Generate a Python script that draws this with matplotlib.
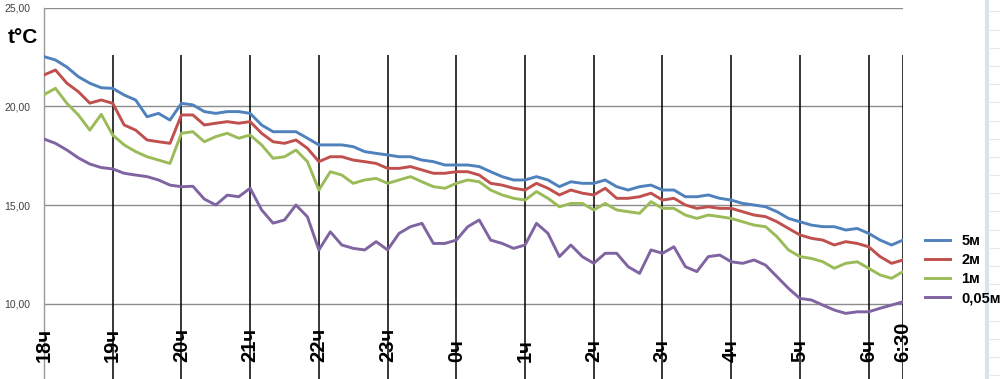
import matplotlib
matplotlib.use("Agg")
import matplotlib.pyplot as plt
import numpy as np
from matplotlib.lines import Line2D

plt.rcParams["font.family"] = ["Liberation Sans", "DejaVu Sans"]

# readings every 10 minutes from 18:00 to 6:30
minutes = np.arange(0, 751, 10)

temp_5m = [
    22.53, 22.36, 22.0, 21.51, 21.18, 20.95,
    20.92, 20.58, 20.33, 19.48, 19.65, 19.31,
    20.16, 20.08, 19.74, 19.65, 19.74, 19.74,
    19.65, 19.06, 18.72, 18.72, 18.72, 18.39,
    18.05, 18.05, 18.05, 17.96, 17.71, 17.62,
    17.54, 17.45, 17.45, 17.28, 17.2, 17.03,
    17.03, 17.03, 16.95, 16.69, 16.44, 16.27,
    16.27, 16.44, 16.27, 15.93, 16.18, 16.1,
    16.1, 16.27, 15.93, 15.76, 15.93, 16.01,
    15.76, 15.76, 15.42, 15.42, 15.51, 15.34,
    15.25, 15.08, 15.0, 14.91, 14.66, 14.32,
    14.15, 13.98, 13.9, 13.9, 13.73, 13.81,
    13.56, 13.22, 12.97, 13.22,
]
temp_2m = [
    21.6, 21.85, 21.18, 20.75, 20.17, 20.33,
    20.16, 19.06, 18.8, 18.3, 18.21, 18.13,
    19.57, 19.57, 19.06, 19.15, 19.23, 19.15,
    19.23, 18.64, 18.21, 18.13, 18.3, 17.88,
    17.2, 17.45, 17.45, 17.28, 17.2, 17.11,
    16.86, 16.86, 16.95, 16.78, 16.61, 16.61,
    16.69, 16.69, 16.52, 16.1, 16.01, 15.85,
    15.76, 16.1, 15.85, 15.51, 15.76, 15.6,
    15.51, 15.85, 15.34, 15.34, 15.42, 15.6,
    15.25, 15.34, 15.0, 14.83, 14.91, 14.83,
    14.83, 14.66, 14.49, 14.41, 14.15, 13.81,
    13.48, 13.31, 13.22, 12.97, 13.14, 13.05,
    12.88, 12.38, 12.04, 12.21,
]
temp_1m = [
    20.6, 20.92, 20.16, 19.57, 18.8, 19.6,
    18.55, 18.05, 17.71, 17.45, 17.28, 17.11,
    18.64, 18.72, 18.21, 18.47, 18.64, 18.39,
    18.55, 18.05, 17.37, 17.45, 17.79, 17.2,
    15.76, 16.69, 16.52, 16.1, 16.27, 16.35,
    16.1, 16.27, 16.44, 16.18, 15.93, 15.85,
    16.1, 16.27, 16.18, 15.76, 15.51, 15.34,
    15.25, 15.68, 15.34, 14.91, 15.08, 15.08,
    14.75, 15.08, 14.75, 14.66, 14.58, 15.17,
    14.83, 14.83, 14.49, 14.32, 14.49, 14.41,
    14.32, 14.15, 13.98, 13.9, 13.39, 12.72,
    12.38, 12.29, 12.12, 11.79, 12.04, 12.12,
    11.79, 11.45, 11.28, 11.62,
]
temp_005m = [
    18.35, 18.13, 17.79, 17.39, 17.08, 16.9,
    16.83, 16.61, 16.52, 16.44, 16.27, 16.01,
    15.93, 15.95, 15.3, 15.0, 15.5, 15.42,
    15.85, 14.75, 14.08, 14.24, 15.0, 14.4,
    12.72, 13.64, 12.97, 12.8, 12.72, 13.14,
    12.72, 13.56, 13.9, 14.07, 13.05, 13.05,
    13.22, 13.9, 14.24, 13.22, 13.05, 12.8,
    12.97, 14.07, 13.56, 12.38, 12.97, 12.38,
    12.04, 12.55, 12.55, 11.87, 11.53, 12.72,
    12.55, 12.88, 11.87, 11.62, 12.38, 12.46,
    12.12, 12.04, 12.21, 11.95, 11.36, 10.77,
    10.26, 10.18, 9.92, 9.67, 9.5, 9.58,
    9.58, 9.76, 9.92, 10.09,
]

series = [
    ("5м", temp_5m, "#4f81bd"),
    ("2м", temp_2m, "#c0504d"),
    ("1м", temp_1m, "#9bbb59"),
    ("0,05м", temp_005m, "#8064a2"),
]

hour_pos = [0, 1, 2, 3, 4, 5, 6, 7, 8, 9, 10, 11, 12, 12.5]
hour_labels = ["18ч", "19ч", "20ч", "21ч", "22ч", "23ч", "0ч",
               "1ч", "2ч", "3ч", "4ч", "5ч", "6ч", "6:30"]
y_ticks = [10, 15, 20, 25]

fig = plt.figure(figsize=(10, 3.79), dpi=100)
ax = fig.add_axes([0.044, 0.0, 0.859, 0.979])

hours = minutes / 60.0
for name, vals, color in series:
    ax.plot(hours, vals, color=color, lw=2.1, label=name, zorder=3)

ax.set_xlim(0, 12.5)
ax.set_ylim(6.17, 25)

# hour markers
ax.vlines(hour_pos[1:], 6.17, 22.6, color="black", lw=1.1, zorder=2)
for pos, lab in zip(hour_pos, hour_labels):
    ax.text(pos, 7.05, lab, rotation=90, ha="center", va="bottom",
            fontsize=14.5, fontweight="bold", color="black", zorder=4)

ax.set_xticks([])
ax.set_yticks(y_ticks)
ax.set_yticklabels([f"{v:.2f}".replace(".", ",") for v in y_ticks],
                   fontsize=7.5, color="#404040")
ax.tick_params(axis="y", length=0, pad=10)
ax.yaxis.grid(True, color="#8c8c8c", lw=1)
ax.set_axisbelow(True)
for side in ["top", "right", "bottom"]:
    ax.spines[side].set_visible(False)
ax.spines["left"].set_color("#9a9a9a")
ax.spines["left"].set_linewidth(1)

fig.text(0.008, 0.9, "t°C", fontsize=15, fontweight="bold", va="center")

fig.legend(loc="center left", bbox_to_anchor=(0.912, 0.288), frameon=False,
           prop={"size": 10.5, "weight": "bold"}, handlelength=1.7,
           handletextpad=0.8, labelspacing=0.35)

# faint spreadsheet grid peeking in on the right
fig.add_artist(Line2D([0.987, 0.987], [0, 1], color="#d6e4ee", lw=3))
for yy in np.arange(0.97, 0.0, -0.048):
    fig.add_artist(Line2D([0.99, 1.0], [yy, yy], color="#e3e8ec", lw=0.8))

fig.savefig("out.png", dpi=100)
